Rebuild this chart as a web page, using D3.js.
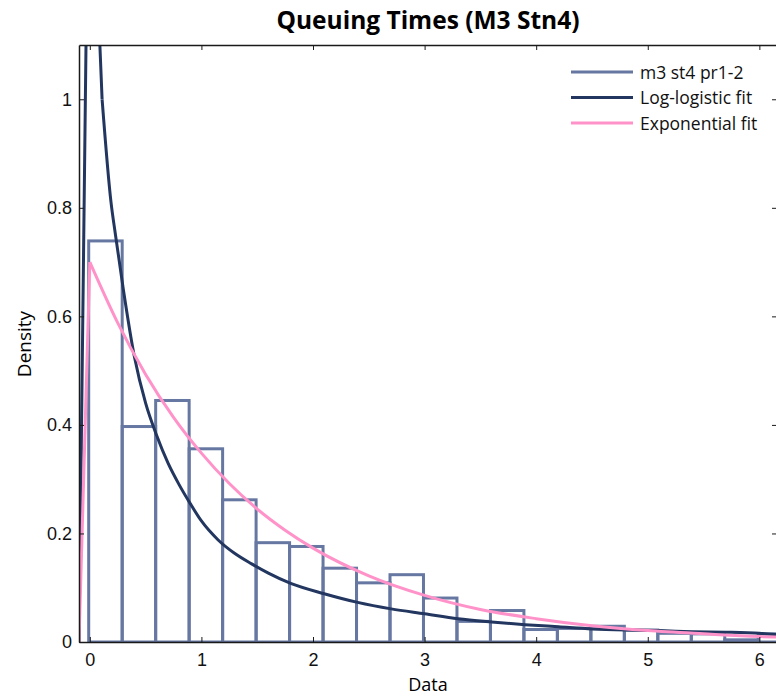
<!DOCTYPE html>
<html>
<head>
<meta charset="utf-8">
<script src="https://cdn.jsdelivr.net/npm/d3@7"></script>
<style>
  body { margin: 0; background: #fff; }
  #chart { width: 776px; height: 697px; }
</style>
</head>
<body>
<div id="chart"></div>
<script>
// histogram bins (edges) and densities
var binEdges = [-0.01, 0.29, 0.59, 0.89, 1.19, 1.49, 1.79, 2.09, 2.39, 2.69, 2.99,
                3.29, 3.59, 3.89, 4.19, 4.49, 4.79, 5.09, 5.39, 5.69, 5.99, 6.29];
var binDensity = [0.739, 0.397, 0.445, 0.356, 0.262, 0.183, 0.176, 0.136, 0.109, 0.124, 0.081,
                  0.038, 0.058, 0.023, 0.025, 0.029, 0.022, 0.016, 0.015, 0.004, 0.015];

// log-logistic fit
var llX = [-0.097, 0.0, 0.09, 0.11, 0.19, 0.23, 0.3, 0.4, 0.5, 0.6, 0.7, 0.8, 0.9, 1.0,
           1.15, 1.3, 1.45, 1.6, 1.8, 2.1, 2.4, 2.7, 3.0, 3.3, 3.6, 3.9, 4.2, 4.5, 4.8,
           5.1, 5.4, 5.7, 6.0, 6.2];
var llY = [0, 1.7, 1.1, 1.0, 0.81, 0.75, 0.65, 0.525, 0.44, 0.38, 0.33, 0.29, 0.255, 0.223,
           0.188, 0.163, 0.144, 0.127, 0.108, 0.089, 0.073, 0.061, 0.052, 0.043, 0.037, 0.032,
           0.028, 0.024, 0.022, 0.021, 0.019, 0.018, 0.016, 0.013];

// exponential fit
var expX = [-0.097, 0.0, 0.25, 0.5, 0.75, 1.0, 1.25, 1.5, 1.75, 2.0, 2.5, 3.0, 3.5, 4.0,
            4.5, 5.0, 5.5, 6.0, 6.2];
var expY = [0, 0.70, 0.588, 0.493, 0.414, 0.348, 0.292, 0.245, 0.206, 0.173, 0.122, 0.086,
            0.060, 0.043, 0.030, 0.021, 0.015, 0.010, 0.009];

var xTicks = [0, 1, 2, 3, 4, 5, 6];
var yTicks = [0, 0.2, 0.4, 0.6, 0.8, 1];
var legendLabels = ['m3 st4 pr1-2', 'Log-logistic fit', 'Exponential fit'];
var seriesColors = ['#6677a1', '#22365f', '#ff93c9'];

var svgWidth = 776, svgHeight = 697;
var margin = {top: 45, right: -1, bottom: 55, left: 79};
var plotW = svgWidth - margin.left - margin.right;
var plotH = svgHeight - margin.top - margin.bottom;

var svg = d3.select('#chart').append('svg')
    .attr('width', svgWidth)
    .attr('height', svgHeight)
    .style('background', '#fff');

var g = svg.append('g')
    .attr('transform', 'translate(' + margin.left + ',' + margin.top + ')');

var xScale = d3.scaleLinear().domain([-0.097, 6.158]).range([0, plotW]);
var yScale = d3.scaleLinear().domain([0, 1.1]).range([plotH, 0]);

svg.append('defs').append('clipPath').attr('id', 'clip')
    .append('rect').attr('width', plotW).attr('height', plotH);

var plot = g.append('g').attr('clip-path', 'url(#clip)');

// histogram bars
plot.selectAll('rect.bar')
    .data(binDensity)
    .enter()
    .append('rect')
    .attr('class', 'bar')
    .attr('x', function (d, i) { return xScale(binEdges[i]); })
    .attr('y', function (d) { return yScale(d); })
    .attr('width', function (d, i) { return xScale(binEdges[i + 1]) - xScale(binEdges[i]); })
    .attr('height', function (d) { return yScale(0) - yScale(d); })
    .style('fill', 'none')
    .style('stroke', seriesColors[0])
    .style('stroke-width', 3);

var line = d3.line()
    .x(function (d) { return xScale(d[0]); })
    .y(function (d) { return yScale(d[1]); });

plot.append('path')
    .attr('d', line.curve(d3.curveLinear)(d3.zip(llX.slice(0, 4), llY.slice(0, 4))))
    .style('fill', 'none').style('stroke', seriesColors[1]).style('stroke-width', 3);
plot.append('path')
    .attr('d', line.curve(d3.curveMonotoneX)(d3.zip(llX.slice(3), llY.slice(3))))
    .style('fill', 'none').style('stroke', seriesColors[1]).style('stroke-width', 3);

plot.append('path')
    .attr('d', line.curve(d3.curveLinear)(d3.zip(expX.slice(0, 2), expY.slice(0, 2))))
    .style('fill', 'none').style('stroke', seriesColors[2]).style('stroke-width', 3);
plot.append('path')
    .attr('d', line.curve(d3.curveMonotoneX)(d3.zip(expX.slice(1), expY.slice(1))))
    .style('fill', 'none').style('stroke', seriesColors[2]).style('stroke-width', 3);

// axes: box with inward ticks on all sides
var tickFont = '"Liberation Sans", Arial, sans-serif';
var gx = g.append('g').attr('transform', 'translate(0,' + plotH + ')')
    .call(d3.axisBottom(xScale).tickValues(xTicks).tickSizeInner(-5).tickSizeOuter(0).tickPadding(11)
        .tickFormat(d3.format('d')));
var gy = g.append('g')
    .call(d3.axisLeft(yScale).tickValues(yTicks).tickSizeInner(-5).tickSizeOuter(0).tickPadding(7)
        .tickFormat(function (d) { return d === 0 || d === 1 ? d : d3.format('.1f')(d); }));
var gt = g.append('g')
    .call(d3.axisTop(xScale).tickValues(xTicks).tickSizeInner(-5).tickSizeOuter(0).tickFormat(''));
var gr = g.append('g').attr('transform', 'translate(' + plotW + ',0)')
    .call(d3.axisRight(yScale).tickValues(yTicks).tickSizeInner(-5).tickSizeOuter(0).tickFormat(''));

[gx, gy, gt, gr].forEach(function (a) {
    a.select('.domain').style('stroke', '#1a1a1a').style('stroke-width', 1.5);
    a.selectAll('.tick line').style('stroke', '#1a1a1a').style('stroke-width', 1);
    a.selectAll('.tick text').style('font-family', tickFont).style('font-size', '18px').style('fill', '#111');
});

// titles
var labelFont = '"Open Sans", sans-serif';
svg.append('text')
    .attr('x', margin.left + plotW / 2)
    .attr('y', 29)
    .attr('text-anchor', 'middle')
    .style('font-family', labelFont)
    .style('font-weight', 'bold')
    .style('font-size', '24.5px')
    .text('Queuing Times (M3 Stn4)');

svg.append('text')
    .attr('x', margin.left + plotW / 2)
    .attr('y', 691)
    .attr('text-anchor', 'middle')
    .style('font-family', labelFont)
    .style('font-size', '18px')
    .text('Data');

svg.append('text')
    .attr('transform', 'translate(31,344) rotate(-90)')
    .attr('text-anchor', 'middle')
    .style('font-family', labelFont)
    .style('font-size', '19px')
    .text('Density');

// legend
var legend = svg.append('g').attr('transform', 'translate(571,72)');
var items = legend.selectAll('g').data(legendLabels).enter().append('g')
    .attr('transform', function (d, i) { return 'translate(0,' + (i * 25.5) + ')'; });
items.append('line')
    .attr('x1', 0).attr('x2', 62)
    .style('stroke', function (d, i) { return seriesColors[i]; })
    .style('stroke-width', 3);
items.append('text')
    .attr('x', 69).attr('y', 6.5)
    .style('font-family', labelFont)
    .style('font-size', '17.5px')
    .style('fill', '#111')
    .text(function (d) { return d; });
</script>
</body>
</html>
